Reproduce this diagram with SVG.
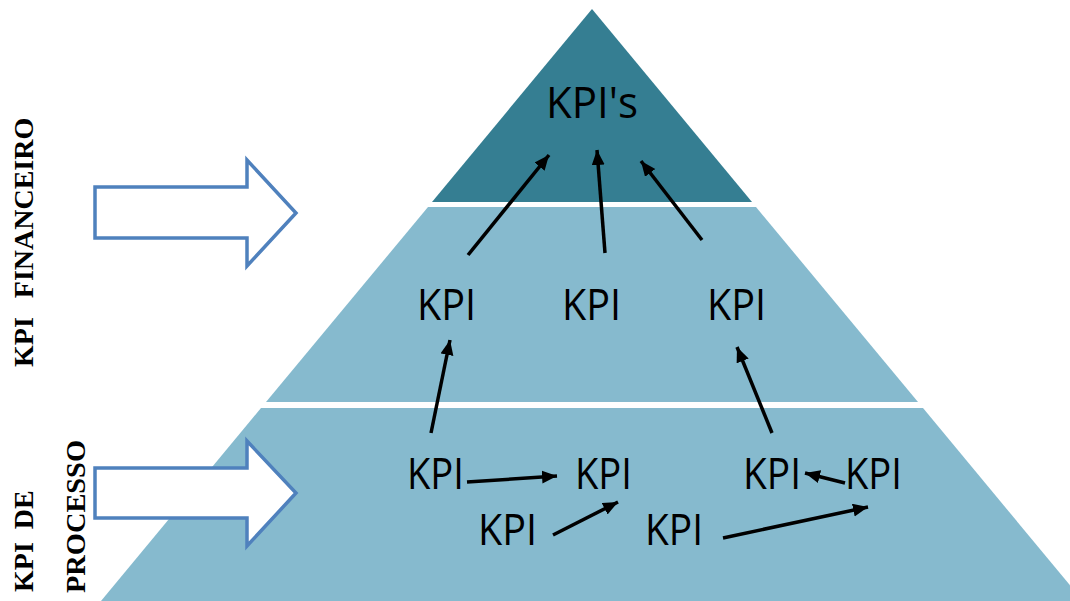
<svg xmlns="http://www.w3.org/2000/svg" width="1070" height="601" viewBox="0 0 1070 601">
<style>
.dark{fill:#357E92}
.light{fill:#86BACE}
.kpi{font-family:"Open Sans","Noto Sans",sans-serif;font-size:44px;fill:#000}
.side{font-family:"Liberation Serif","Times New Roman",serif;font-weight:bold;font-size:28px;fill:#000}
.hollow{fill:#fff;stroke:#4F81BD;stroke-width:3.5;stroke-linejoin:miter}
.conn line{stroke:#000;stroke-width:3.5;marker-end:url(#ah)}
</style>
<defs>
<marker id="ah" markerUnits="userSpaceOnUse" markerWidth="18" markerHeight="14" refX="15" refY="6.5" orient="auto">
<path d="M0,0 L15,6.5 L0,13 Z" fill="#000"/>
</marker>
</defs>
<rect width="1070" height="601" fill="#fff"/>
<g id="pyramid">
<polygon id="tier-top" class="dark" points="592,9 432,202 752,202"/>
<polygon id="tier-mid" class="light" points="428,207 756,207 918,402 266,402"/>
<polygon id="tier-bottom" class="light" points="261,408 923,408 1083,601 101,601"/>
</g>
<g id="side-arrows">
<polygon id="arrow-fin" class="hollow" points="95,187 247,187 247,160 296,213 247,266 247,238 95,238"/>
<polygon id="arrow-proc" class="hollow" points="95,468 247,468 247,441 296,493 247,546 247,518 95,518"/>
</g>
<g id="side-labels">
<text id="lbl-fin" class="side" transform="translate(33,367) rotate(-90)">KPI <tspan dx="12">FINANCEIRO</tspan></text>
<text id="lbl-de" class="side" transform="translate(33,592) rotate(-90)">KPI <tspan dx="6">DE</tspan></text>
<text id="lbl-proc" class="side" transform="translate(85,593) rotate(-90)" textLength="153" lengthAdjust="spacingAndGlyphs">PROCESSO</text>
</g>
<g id="n-top"><text class="kpi" x="546" y="118" font-size="40" textLength="92" lengthAdjust="spacingAndGlyphs">KPI's</text></g>
<g id="n-m1"><text class="kpi" x="417" y="320" textLength="59" lengthAdjust="spacingAndGlyphs">KPI</text></g>
<g id="n-m2"><text class="kpi" x="562" y="320" textLength="59" lengthAdjust="spacingAndGlyphs">KPI</text></g>
<g id="n-m3"><text class="kpi" x="707" y="320" textLength="59" lengthAdjust="spacingAndGlyphs">KPI</text></g>
<g id="n-b1"><text class="kpi" x="407" y="489" textLength="57" lengthAdjust="spacingAndGlyphs">KPI</text></g>
<g id="n-b2"><text class="kpi" x="575" y="489" textLength="57" lengthAdjust="spacingAndGlyphs">KPI</text></g>
<g id="n-b3"><text class="kpi" x="743" y="489" textLength="58" lengthAdjust="spacingAndGlyphs">KPI</text></g>
<g id="n-b4"><text class="kpi" x="845" y="489" textLength="57" lengthAdjust="spacingAndGlyphs">KPI</text></g>
<g id="n-b5"><text class="kpi" x="478" y="545" textLength="59" lengthAdjust="spacingAndGlyphs">KPI</text></g>
<g id="n-b6"><text class="kpi" x="645" y="545" textLength="58" lengthAdjust="spacingAndGlyphs">KPI</text></g>
<g id="connectors" class="conn">
<line x1="468" y1="255" x2="549" y2="155"/>
<line x1="605" y1="253" x2="597" y2="150"/>
<line x1="702" y1="240" x2="641" y2="161"/>
<line x1="431" y1="433" x2="450" y2="340"/>
<line x1="772" y1="433" x2="737" y2="347"/>
<line x1="467" y1="482" x2="557" y2="476"/>
<line x1="553" y1="535" x2="618" y2="502"/>
<line x1="723" y1="538" x2="868" y2="507"/>
<line x1="845" y1="483" x2="805" y2="473"/>
</g>
</svg>
